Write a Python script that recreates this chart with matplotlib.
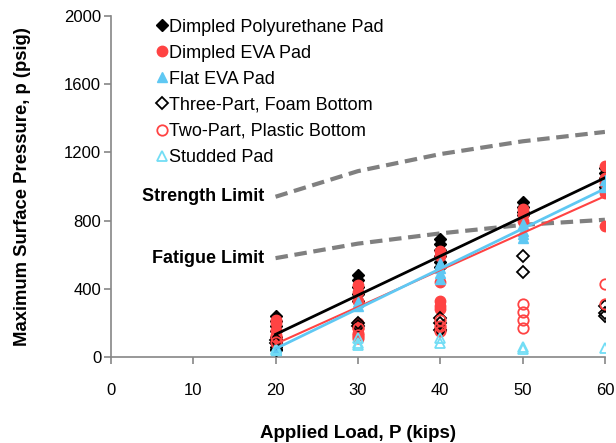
import matplotlib.pyplot as plt
import numpy as np

plt.rcParams['font.family'] = ['Liberation Sans', 'DejaVu Sans']

# applied load (kips) and measured max surface pressure (psig), per pad type
polyLoad = [20]*9 + [30]*5 + [40]*7 + [50]*4 + [60]*5
polyP = [240, 210, 180, 150, 120, 90, 60, 50, 40,
         480, 450, 410, 370, 330,
         690, 660, 630, 590, 560, 530, 160,
         910, 880, 850, 830,
         1110, 1080, 1050, 1000, 980]

evaLoad = [20]*6 + [30]*6 + [40]*7 + [50]*3 + [60]*5
evaP = [220, 200, 160, 130, 100, 80,
        420, 380, 330, 200, 170, 140,
        620, 590, 440, 330, 300, 280, 170,
        870, 840, 800,
        1120, 1050, 1020, 960, 770]

flatLoad = [20]*3 + [30]*2 + [40]*4 + [50]*4 + [60]*2
flatP = [60, 50, 40,
         320, 300,
         550, 520, 490, 460,
         780, 740, 720, 700,
         1040, 1000]

threeLoad = [20]*2 + [30]*2 + [40]*3 + [50]*2 + [60]*3
threeP = [100, 80, 200, 180, 230, 200, 160, 590, 500, 300, 260, 240]

twoLoad = [20]*2 + [30]*3 + [40]*3 + [50]*4 + [60]*2
twoP = [120, 90, 170, 130, 110, 220, 180, 150, 310, 265, 215, 170, 430, 310]

studLoad = [20]*2 + [30]*3 + [40]*2 + [50]*2 + [60]
studP = [50, 40, 110, 80, 70, 110, 80, 60, 50, 55]

limitLoad = [20, 30, 40, 50, 60]
strengthP = [940, 1090, 1190, 1265, 1320]
fatigueP = [580, 665, 725, 775, 805]

black = 'black'
red = '#FF4343'
blue = '#5FC8F3'
cyan = '#72DDF5'
gray = '#868686'

fig = plt.figure(figsize=(6.16, 4.43), dpi=100)
ax = fig.add_axes([0.180, 0.194, 0.802, 0.770])

ax.plot(limitLoad, strengthP, ls=(0, (3, 1.6)), color='#808080', lw=3, zorder=1)
ax.plot(limitLoad, fatigueP, ls=(0, (3, 1.6)), color='#808080', lw=3, zorder=1)

ms = 7.5
ax.plot(polyLoad, polyP, 'D', color=black, ms=ms-1, ls='none', label='Dimpled Polyurethane Pad', zorder=3)
ax.plot(evaLoad, evaP, 'o', color=red, ms=ms, ls='none', label='Dimpled EVA Pad', zorder=3)
ax.plot(flatLoad, flatP, '^', color=blue, ms=ms, ls='none', label='Flat EVA Pad', zorder=3)
ax.plot(threeLoad, threeP, 'D', mfc='none', mec=black, mew=1.3, ms=ms-1, ls='none',
        label='Three-Part, Foam Bottom', zorder=3)
ax.plot(twoLoad, twoP, 'o', mfc='none', mec=red, mew=1.3, ms=ms, ls='none',
        label='Two-Part, Plastic Bottom', zorder=3)
ax.plot(studLoad, studP, '^', mfc='none', mec=cyan, mew=1.3, ms=ms, ls='none',
        label='Studded Pad', zorder=3)

# linear trendlines on the filled series
xs = np.array([20, 60])
for xl, yl, c, w in [(polyLoad, polyP, black, 2), (evaLoad, evaP, red, 1.5),
                     (flatLoad, flatP, blue, 2)]:
    k, b = np.polyfit(xl, yl, 1)
    ax.plot(xs, k*xs + b, color=c, lw=w, zorder=4)

ax.text(18.6, 940, 'Strength Limit', ha='right', va='center', fontsize=13, fontweight='bold')
ax.text(18.6, 580, 'Fatigue Limit', ha='right', va='center', fontsize=13, fontweight='bold')

ax.set_xlim(0, 60)
ax.set_ylim(0, 2000)
ax.set_xticks(range(0, 61, 10))
ax.set_yticks(range(0, 2001, 400))
ax.spines['top'].set_visible(False)
ax.spines['right'].set_visible(False)
for s in ['left', 'bottom']:
    ax.spines[s].set_color(gray)
    ax.spines[s].set_linewidth(1.2)
ax.tick_params(axis='both', colors=gray, labelcolor='black', labelsize=12, length=5, width=1.2)
ax.tick_params(axis='x', pad=14)
ax.tick_params(axis='y', pad=2)

ax.set_xlabel('Applied Load, P (kips)', fontsize=13.5, fontweight='bold', labelpad=19)
ax.set_ylabel('Maximum Surface Pressure, p (psig)', fontsize=13.3, fontweight='bold', labelpad=24)

ax.legend(loc='upper left', bbox_to_anchor=(0.08, 1.013), frameon=False, fontsize=13,
          handlelength=0.5, handletextpad=0.15, labelspacing=0.5, borderaxespad=0)

fig.savefig('out.png', dpi=100)
